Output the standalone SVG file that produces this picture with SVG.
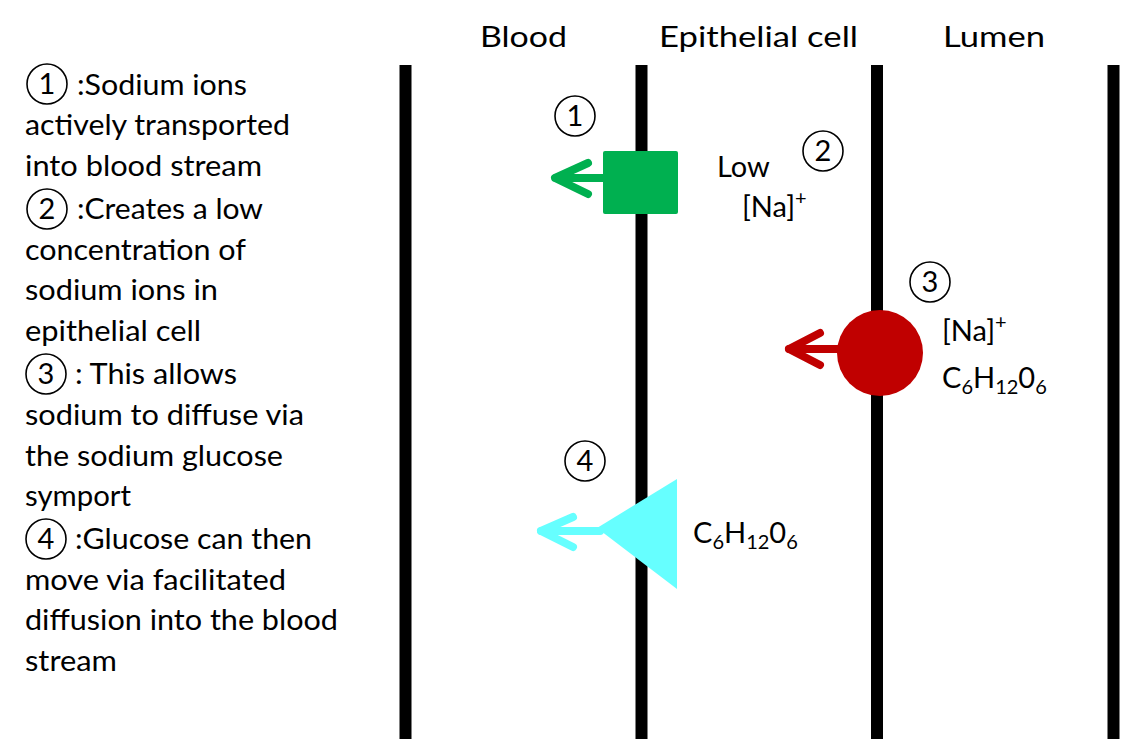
<svg xmlns="http://www.w3.org/2000/svg" width="1121" height="739" viewBox="0 0 1121 739">
<defs>
<style>
text{font-family:Lato,"Liberation Sans",sans-serif;fill:#000}
.t{font-size:29px}
.h{font-size:29px}
.n{font-size:29px;text-anchor:middle}
.c{fill:none;stroke:#000;stroke-width:1.6}
.m{stroke:#000;stroke-width:12}
.sub{font-size:20px}
.a{fill:none;stroke-width:8;stroke-linecap:round;stroke-linejoin:round}
</style>
</defs>
<rect width="1121" height="739" fill="#fff"/>
<g id="headers">
<text class="h" x="480" y="47" textLength="87" lengthAdjust="spacingAndGlyphs">Blood</text>
<text class="h" x="659" y="47" textLength="199" lengthAdjust="spacingAndGlyphs">Epithelial cell</text>
<text class="h" x="943" y="47" textLength="102" lengthAdjust="spacingAndGlyphs">Lumen</text>
</g>
<g id="membranes">
<line class="m" x1="405.5" y1="65" x2="405.5" y2="739"/>
<line class="m" x1="641.5" y1="65" x2="641.5" y2="739"/>
<line class="m" x1="877" y1="65" x2="877" y2="739"/>
<line class="m" x1="1113.5" y1="65" x2="1113.5" y2="739"/>
</g>
<g id="legend">
<circle class="c" cx="47" cy="84" r="20"/><text class="n" x="47" y="94">1</text>
<text class="t" x="77" y="95" textLength="170" lengthAdjust="spacingAndGlyphs">:Sodium ions</text>
<text class="t" x="25" y="135" textLength="265" lengthAdjust="spacingAndGlyphs">actively transported</text>
<text class="t" x="25" y="176" textLength="237" lengthAdjust="spacingAndGlyphs">into blood stream</text>
<circle class="c" cx="47" cy="209" r="20"/><text class="n" x="47" y="219">2</text>
<text class="t" x="77" y="219" textLength="186" lengthAdjust="spacingAndGlyphs">:Creates a low</text>
<text class="t" x="25" y="260" textLength="221" lengthAdjust="spacingAndGlyphs">concentration of</text>
<text class="t" x="25" y="300" textLength="193" lengthAdjust="spacingAndGlyphs">sodium ions in</text>
<text class="t" x="25" y="341" textLength="176" lengthAdjust="spacingAndGlyphs">epithelial cell</text>
<circle class="c" cx="46" cy="374" r="20"/><text class="n" x="46" y="384">3</text>
<text class="t" x="75" y="384" textLength="162" lengthAdjust="spacingAndGlyphs">: This allows</text>
<text class="t" x="25" y="425" textLength="279" lengthAdjust="spacingAndGlyphs">sodium to diffuse via</text>
<text class="t" x="25" y="466" textLength="258" lengthAdjust="spacingAndGlyphs">the sodium glucose</text>
<text class="t" x="25" y="506" textLength="106" lengthAdjust="spacingAndGlyphs">symport</text>
<circle class="c" cx="46" cy="539" r="20"/><text class="n" x="46" y="549">4</text>
<text class="t" x="75" y="549" textLength="237" lengthAdjust="spacingAndGlyphs">:Glucose can then</text>
<text class="t" x="25" y="590" textLength="261" lengthAdjust="spacingAndGlyphs">move via facilitated</text>
<text class="t" x="25" y="630" textLength="313" lengthAdjust="spacingAndGlyphs">diffusion into the blood</text>
<text class="t" x="25" y="671" textLength="92" lengthAdjust="spacingAndGlyphs">stream</text>
</g>
<g id="connectors">
<g stroke="#00b050" class="a"><line x1="603" y1="178" x2="556" y2="178"/><polyline points="588,163 555,178 588,194"/></g>
<g stroke="#c00000" class="a"><line x1="840" y1="349" x2="789" y2="349"/><polyline points="820,333 789,349 820,365"/></g>
<g stroke="#66ffff" class="a"><line x1="600" y1="531" x2="541" y2="531"/><polyline points="573,517 541,531 573,547"/></g>
</g>
<g id="node1">
<rect x="603" y="151" width="75" height="63" rx="2" fill="#00b050"/>
<circle class="c" cx="575" cy="116" r="20"/><text class="n" x="575" y="126">1</text>
</g>
<g id="node2">
<text class="t" x="717" y="177">Low</text>
<text class="t" x="742" y="217">[Na]<tspan class="sub" dy="-12">+</tspan></text>
<circle class="c" cx="823" cy="151" r="20"/><text class="n" x="823" y="161">2</text>
</g>
<g id="node3">
<circle cx="880" cy="353" r="43" fill="#c00000"/>
<circle class="c" cx="930" cy="282" r="20"/><text class="n" x="930" y="292">3</text>
<text class="t" x="942" y="341">[Na]<tspan class="sub" dy="-12">+</tspan></text>
<text class="t" x="942" y="388">C<tspan class="sub" dy="6">6</tspan><tspan dy="-6">H</tspan><tspan class="sub" dy="6">12</tspan><tspan dy="-6">0</tspan><tspan class="sub" dy="6">6</tspan></text>
</g>
<g id="node4">
<polygon points="597,528 677,479 677,589" fill="#66ffff"/>
<circle class="c" cx="585" cy="461" r="20"/><text class="n" x="585" y="471">4</text>
<text class="t" x="693" y="543">C<tspan class="sub" dy="6">6</tspan><tspan dy="-6">H</tspan><tspan class="sub" dy="6">12</tspan><tspan dy="-6">0</tspan><tspan class="sub" dy="6">6</tspan></text>
</g>
</svg>
